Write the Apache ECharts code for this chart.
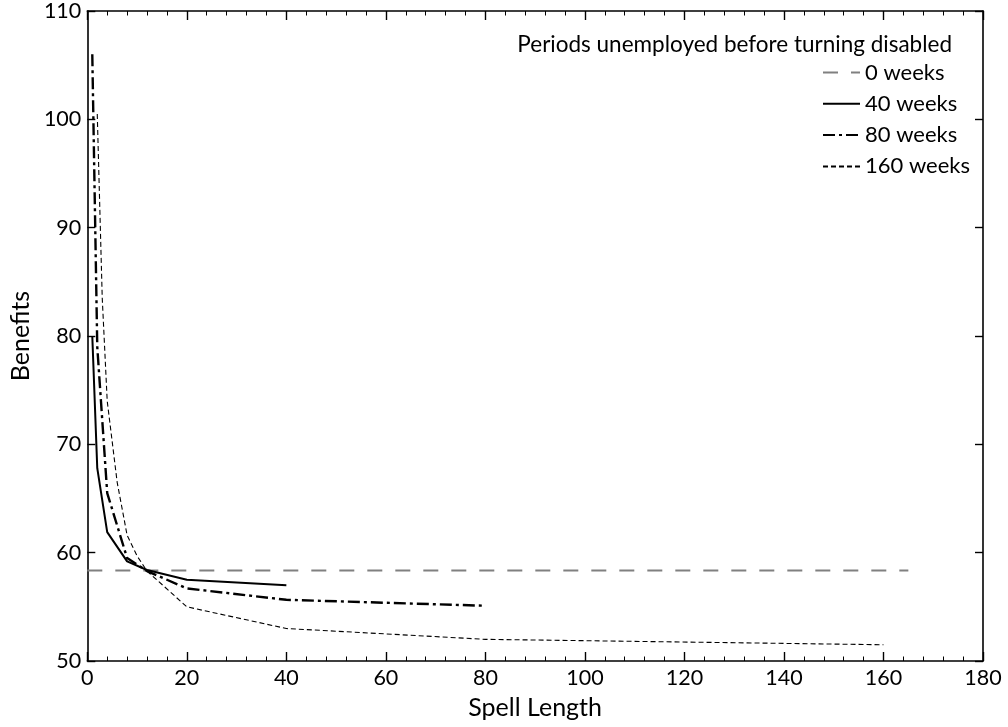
<!DOCTYPE html>
<html>
<head>
<meta charset="utf-8">
<script src="https://cdn.jsdelivr.net/npm/echarts@6/dist/echarts.min.js"></script>
<style>
html,body{margin:0;padding:0;background:#fff;}
#chart{width:1008px;height:727px;}
</style>
</head>
<body>
<div id="chart"></div>
<script>
// ---- data ----
const legendTitle = 'Periods unemployed before turning disabled';
const seriesNames = ['0 weeks', '40 weeks', '80 weeks', '160 weeks'];

const spell0 = [0, 165];
const ben0 = [58.35, 58.35];

const spell40 = [1, 2, 4, 8, 12, 20, 40];
const ben40 = [80.0, 67.8, 61.9, 59.2, 58.4, 57.5, 57.0];

const spell80 = [1, 2, 4, 8, 12, 20, 40, 80];
const ben80 = [106.0, 79.0, 65.5, 59.5, 58.3, 56.7, 55.65, 55.1];

const spell160 = [2, 3, 4, 6, 8, 10, 12, 20, 40, 80, 160];
const ben160 = [100.5, 83.5, 74.0, 66.5, 61.6, 59.7, 58.3, 55.0, 53.0, 52.0, 51.5];

const xTicks = { min: 0, max: 180, interval: 20 };
const yTicks = { min: 50, max: 110, interval: 10 };

const pair = (xs, ys) => xs.map((x, i) => [x, ys[i]]);

const FONT = 'Lato';
const FS = 21.5;
const FS_NAME = 25;
const FS_LEG = 22;

const axisCommon = {
  axisLine: { show: true, onZero: false, lineStyle: { color: '#000', width: 1.6 } },
  splitLine: { show: false }
};

const chart = echarts.init(document.getElementById('chart'), null, { renderer: 'canvas' });
chart.setOption({
  animation: false,
  backgroundColor: '#fff',
  grid: { left: 86, right: 25, top: 11, bottom: 66, containLabel: false },
  title: {
    text: legendTitle,
    right: 51, top: 28,
    textStyle: { fontFamily: FONT, fontSize: 22.5, fontWeight: 'normal', color: '#000' }
  },
  legend: {
    orient: 'vertical',
    left: 817, top: 56,
    itemWidth: 37, itemHeight: 14, itemGap: 8.3,
    itemStyle: { opacity: 0 },
    data: seriesNames,
    textStyle: { fontFamily: FONT, fontSize: FS_LEG, color: '#000', lineHeight: 23 }
  },
  xAxis: [
    Object.assign({
      type: 'value', position: 'bottom', min: xTicks.min, max: xTicks.max, interval: xTicks.interval,
      name: 'Spell Length', nameLocation: 'middle', nameGap: 34,
      nameTextStyle: { fontFamily: FONT, fontSize: FS_NAME, color: '#000' },
      axisTick: { show: true, inside: true, length: 9, lineStyle: { color: '#000', width: 1.4 } },
      minorTick: { show: true, splitNumber: 5, length: 4.5, lineStyle: { color: '#000', width: 1 } },
      axisLabel: { fontFamily: FONT, fontSize: FS, color: '#000', margin: 6 }
    }, axisCommon),
    Object.assign({
      type: 'value', position: 'top', min: xTicks.min, max: xTicks.max, interval: xTicks.interval,
      axisTick: { show: true, inside: true, length: 9, lineStyle: { color: '#000', width: 1.4 } },
      minorTick: { show: true, splitNumber: 5, length: 4.5, lineStyle: { color: '#000', width: 1 } },
      axisLabel: { show: false }
    }, axisCommon)
  ],
  yAxis: [
    Object.assign({
      type: 'value', position: 'left', min: yTicks.min, max: yTicks.max, interval: yTicks.interval,
      name: 'Benefits', nameLocation: 'middle', nameGap: 51, nameRotate: 90,
      nameTextStyle: { fontFamily: FONT, fontSize: FS_NAME, color: '#000' },
      axisTick: { show: true, inside: true, length: 8, lineStyle: { color: '#000', width: 1.4 } },
      axisLabel: { fontFamily: FONT, fontSize: FS, color: '#000', margin: 6 }
    }, axisCommon),
    Object.assign({
      type: 'value', position: 'right', min: yTicks.min, max: yTicks.max, interval: yTicks.interval,
      axisTick: { show: true, inside: true, length: 8, lineStyle: { color: '#000', width: 1.4 } },
      axisLabel: { show: false }
    }, axisCommon)
  ],
  series: [
    {
      name: seriesNames[0], type: 'line', data: pair(spell0, ben0), symbol: 'none',
      lineStyle: { color: '#808080', width: 2, type: [15, 13] },
      itemStyle: { color: '#808080' }, z: 2
    },
    {
      name: seriesNames[1], type: 'line', data: pair(spell40, ben40), symbol: 'none',
      lineStyle: { color: '#000', width: 2 }, itemStyle: { color: '#000' }, z: 3
    },
    {
      name: seriesNames[2], type: 'line', data: pair(spell80, ben80), symbol: 'none',
      lineStyle: { color: '#000', width: 2.4, type: [12, 4, 3, 4] }, itemStyle: { color: '#000' }, z: 3
    },
    {
      name: seriesNames[3], type: 'line', data: pair(spell160, ben160), symbol: 'none',
      lineStyle: { color: '#000', width: 1.1, type: [5, 3] }, itemStyle: { color: '#000' }, z: 3
    }
  ]
});
</script>
</body>
</html>
